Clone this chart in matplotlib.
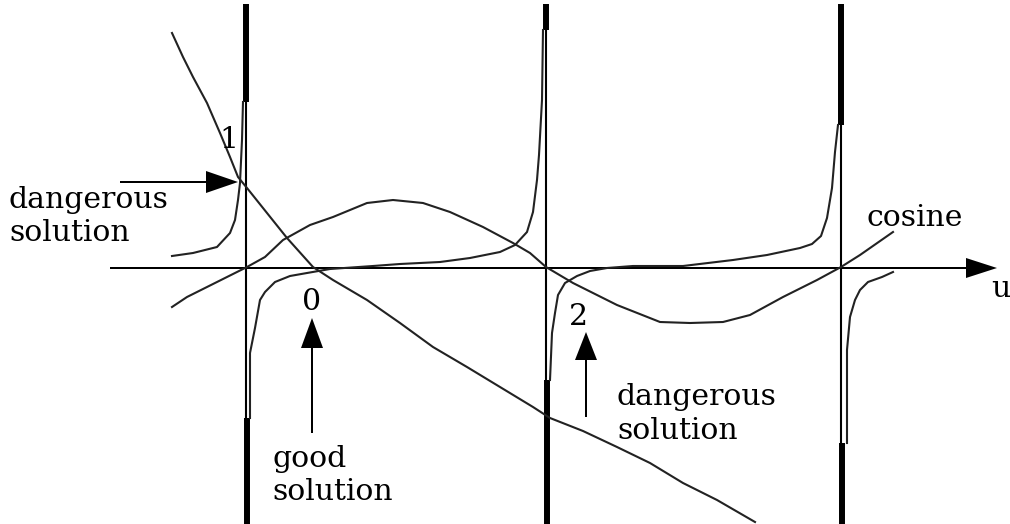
import matplotlib
matplotlib.use("Agg")
import matplotlib.pyplot as plt

# Pixel-space sketch of the roots problem: tan-like branches, cosine, falling curve
W, H = 1010, 524

# u axis
axis_y = 268
axis_x0, axis_x1 = 110, 997

# asymptotes (x position, thick top end, thick bottom start)
asym_x = [246, 546, 841]
asym_top_thick = [102, 30, 125]
asym_bot_thick = [418, 380, 443]

# falling curve
fall_x = [172, 183, 193, 207, 220, 230, 238, 247, 267, 287, 313, 333, 367, 400,
          433, 467, 500, 533, 550, 583, 617, 650, 683, 717, 755]
fall_y = [33, 57, 77, 103, 133, 157, 177, 188, 213, 238, 267, 280, 300, 323,
          347, 367, 387, 407, 418, 431, 447, 463, 483, 500, 522]

# cosine curve
cos_x = [172, 187, 217, 247, 265, 283, 310, 333, 367, 393, 423, 450, 483, 513,
         530, 546, 573, 617, 660, 690, 723, 750, 783, 817, 841, 860, 893]
cos_y = [307, 297, 282, 267, 257, 240, 225, 217, 203, 200, 203, 212, 227, 243,
         253, 267, 283, 305, 322, 323, 322, 315, 297, 280, 267, 255, 232]

# tan-like branches
br1_x = [172, 193, 217, 230, 235, 238, 240, 242, 243]
br1_y = [256, 253, 247, 233, 220, 200, 183, 140, 102]

br2_x = [250, 250, 255, 260, 265, 275, 290, 307, 330, 373, 400, 440, 470, 500,
         515, 527, 533, 537, 539, 542, 543]
br2_y = [418, 353, 328, 300, 292, 282, 276, 273, 269, 266, 264, 262, 258, 252,
         245, 232, 212, 180, 155, 100, 30]

br3_x = [550, 552, 555, 558, 565, 577, 590, 607, 633, 683, 733, 767, 800, 812,
         821, 827, 832, 835, 838]
br3_y = [380, 333, 313, 295, 283, 276, 271, 268, 266, 266, 260, 255, 248, 244,
         236, 218, 188, 152, 125]

br4_x = [847, 847, 850, 855, 860, 868, 882, 893]
br4_y = [443, 350, 317, 300, 290, 282, 277, 272]

fig = plt.figure(figsize=(W / 100, H / 100), dpi=100)
ax = fig.add_axes([0, 0, 1, 1])
ax.set_xlim(0, W)
ax.set_ylim(H, 0)
ax.axis("off")

k = "black"

for x, t, b in zip(asym_x, asym_top_thick, asym_bot_thick):
    ax.plot([x, x], [4, H], color=k, lw=1.5, solid_capstyle="butt")
    ax.plot([x - 0.5, x - 0.5], [4, t], color=k, lw=4.3, solid_capstyle="butt")
    ax.plot([x + 0.5, x + 0.5], [b, H], color=k, lw=4.3, solid_capstyle="butt")

for xs, ys in [(fall_x, fall_y), (cos_x, cos_y), (br1_x, br1_y),
               (br2_x, br2_y), (br3_x, br3_y), (br4_x, br4_y)]:
    ax.plot(xs, ys, color="#222222", lw=1.5)

ax.arrow(axis_x0, axis_y, axis_x1 - axis_x0, 0, width=2, head_width=20,
         head_length=31, length_includes_head=True, color=k, lw=0)

# pointer arrows to the solutions
ax.arrow(120, 182, 118, 0, width=2, head_width=22, head_length=32,
         length_includes_head=True, color=k, lw=0)
ax.arrow(312, 433, 0, -115, width=2, head_width=22, head_length=30,
         length_includes_head=True, color=k, lw=0)
ax.arrow(586, 417, 0, -85, width=2, head_width=22, head_length=28,
         length_includes_head=True, color=k, lw=0)

fnt = dict(family="DejaVu Serif", fontsize=21.5, color=k, va="baseline")
ax.text(9, 208, "dangerous", ha="left", **fnt)
ax.text(9, 241, "solution", ha="left", **fnt)
ax.text(229, 148, "1", ha="center", **fnt)
ax.text(312, 310, "0", ha="center", **fnt)
ax.text(272, 467, "good", ha="left", **fnt)
ax.text(272, 500, "solution", ha="left", **fnt)
ax.text(578, 325, "2", ha="center", **fnt)
ax.text(617, 405, "dangerous", ha="left", **fnt)
ax.text(617, 439, "solution", ha="left", **fnt)
ax.text(867, 226, "cosine", ha="left", **fnt)
ax.text(991, 297, "u", ha="left", **fnt)

fig.savefig("out.png", dpi=100)
